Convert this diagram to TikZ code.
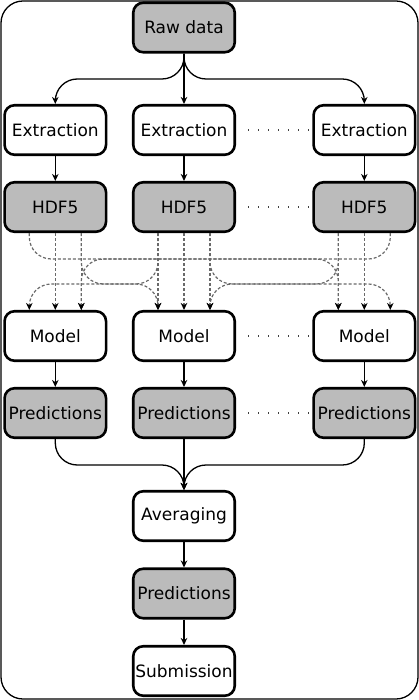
\documentclass[tikz,border=0pt]{standalone}
\usepackage{fontspec}
\setmainfont{DejaVu Sans}
\usetikzlibrary{arrows.meta,calc}
\definecolor{boxgray}{RGB}{187,187,187}
\definecolor{dashgray}{RGB}{105,105,105}
\begin{document}
\begin{tikzpicture}[x=1pt,y=-1pt,
  box/.style={draw, line width=2.6pt, rounded corners=10pt, minimum width=101.5pt,
    minimum height=49.5pt, inner sep=0pt, font=\fontsize{17}{20}\selectfont},
  wbox/.style={box, fill=white},
  gbox/.style={box, fill=boxgray},
  tip/.style={-{Stealth[length=7pt,width=6.5pt,inset=2.2pt]}},
  arr/.style={line width=1.3pt, tip},
  carr/.style={arr, rounded corners=22pt},
  darr/.style={line width=1.2pt, draw=dashgray, dash pattern=on 3pt off 2pt,
    rounded corners=22pt, -{Stealth[length=7pt,width=6.5pt,inset=2.2pt,black]}},
  dotline/.style={line width=1.3pt, draw=black!75, dash pattern=on 1.3pt off 8.7pt,
    shorten <=12pt, shorten >=3pt}
]
\useasboundingbox (0,0) rectangle (419,700);
\draw[line width=1.3pt, rounded corners=22pt] (1,1) rectangle (418,699);

\node[gbox] (raw) at (184,27.5) {Raw data};

\node[wbox] (e1) at (55.3,130) {Extraction};
\node[wbox] (e2) at (184,130) {Extraction};
\node[wbox] (e3) at (364.3,130) {Extraction};

\node[gbox] (h1) at (55.3,207) {HDF5};
\node[gbox] (h2) at (184,207) {HDF5};
\node[gbox] (h3) at (364.3,207) {HDF5};

\node[wbox] (m1) at (55.3,336) {Model};
\node[wbox] (m2) at (184,336) {Model};
\node[wbox] (m3) at (364.3,336) {Model};

\node[gbox] (p1) at (55.3,413) {Predictions};
\node[gbox] (p2) at (184,413) {Predictions};
\node[gbox] (p3) at (364.3,413) {Predictions};

\node[wbox] (avg) at (184,516) {Averaging};
\node[gbox] (pf) at (184,593.5) {Predictions};
\node[wbox] (sub) at (184,671) {Submission};

\coordinate (rb) at (0,79);
\coordinate (tb) at (0,259);
\coordinate (bb) at (0,284);
\coordinate (ab) at (0,465);

\foreach \i in {1,2,3} {
  \coordinate (h\i-l) at ($(h\i.south)+(-26,0)$);
  \coordinate (h\i-c) at (h\i.south);
  \coordinate (h\i-r) at ($(h\i.south)+(26,0)$);
  \coordinate (m\i-l) at ($(m\i.north)+(-26,0)$);
  \coordinate (m\i-c) at (m\i.north);
  \coordinate (m\i-r) at ($(m\i.north)+(26,0)$);
}

% raw data to extraction
\draw[carr] (raw.south) |- (e1.north |- rb) -- (e1.north);
\draw[arr] (raw.south) -- (e2.north);
\draw[carr] (raw.south) |- (e3.north |- rb) -- (e3.north);

% extraction to hdf5, model to predictions
\foreach \i in {1,2,3} {
  \draw[arr] (e\i) -- (h\i);
  \draw[arr] (m\i) -- (p\i);
}

% dotted continuation marks
\draw[dotline] (e2.east) -- (e3.west);
\draw[dotline] (h2.east) -- (h3.west);
\draw[dotline] (m2.east) -- (m3.west);
\draw[dotline] (p2.east) -- (p3.west);

% dashed connectors hdf5 -> model
\draw[darr] (h1-c) -- (m1-c);
\draw[darr] (h1-r) -- (m1-r);
\draw[darr] (h2-l) -- (m2-l);
\draw[darr] (h2-c) -- (m2-c);
\draw[darr] (h2-r) -- (m2-r);
\draw[darr] (h3-l) -- (m3-l);
\draw[darr] (h3-c) -- (m3-c);

\draw[darr] (h1-l) |- (m3-l |- tb) -- (m3-l);
\draw[darr] (h3-r) |- (m1-r |- tb) -- (m1-r);
\draw[darr] (h1-r) |- (m2-l |- bb) -- (m2-l);
\draw[darr] (h2-l) |- (m1-l |- bb) -- (m1-l);
\draw[darr] (h2-r) |- (m3-r |- bb) -- (m3-r);
\draw[darr] (h3-l) |- (m2-r |- bb) -- (m2-r);

% predictions to averaging
\draw[carr] (p1.south) |- (avg.north |- ab) -- (avg.north);
\draw[arr] (p2.south) -- (avg.north);
\draw[carr] (p3.south) |- (avg.north |- ab) -- (avg.north);

\draw[arr] (avg) -- (pf);
\draw[arr] (pf) -- (sub);
\end{tikzpicture}
\end{document}
